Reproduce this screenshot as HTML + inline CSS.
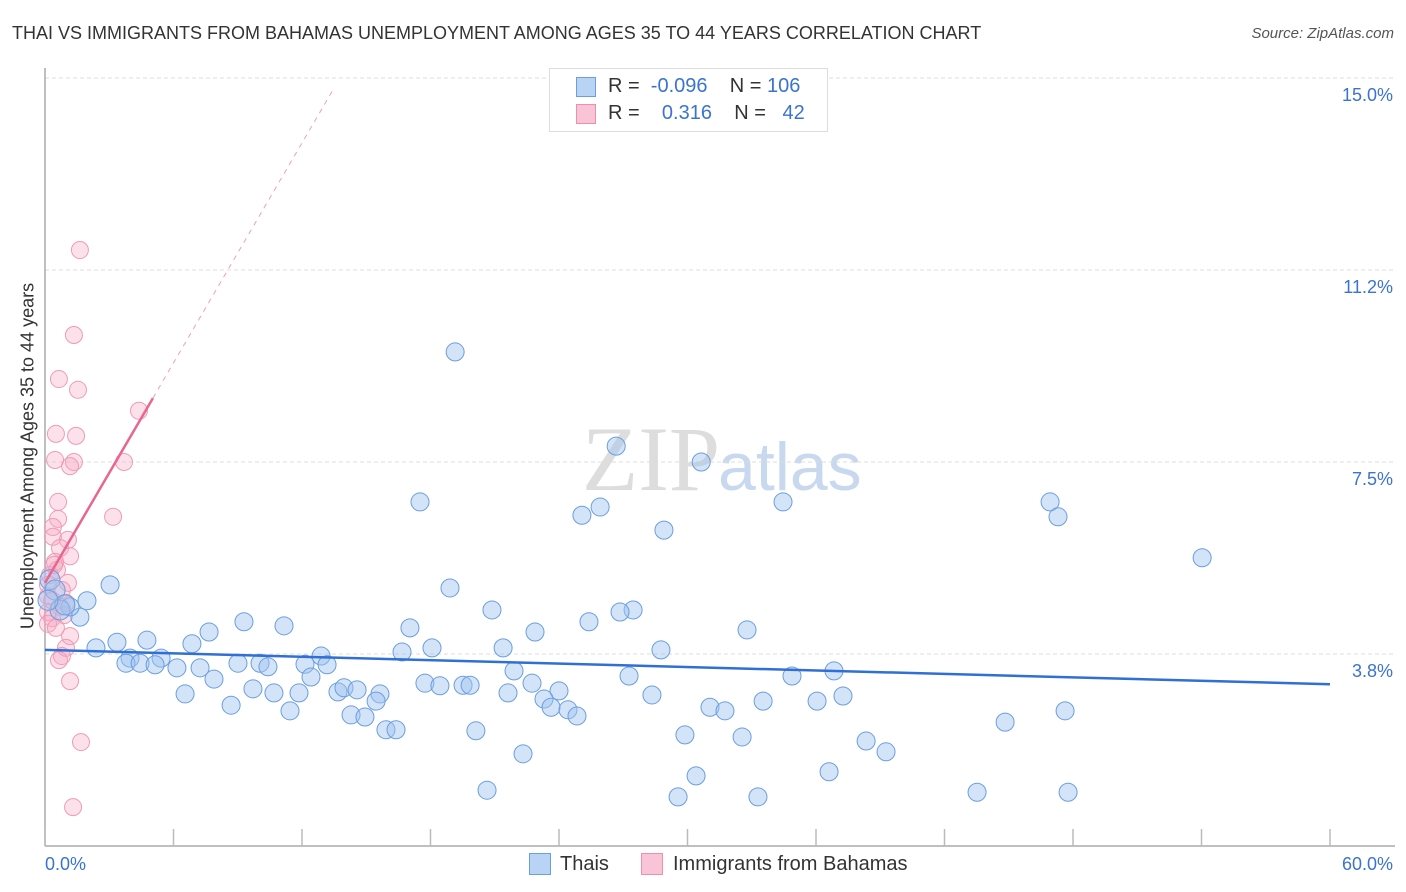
<!DOCTYPE html>
<html><head><meta charset="utf-8"><style>
body{margin:0;background:#fff;font-family:"Liberation Sans",sans-serif}
#c{position:relative;width:1406px;height:892px;overflow:hidden}
.t{position:absolute;white-space:nowrap}
</style></head><body>
<div id="c">
<div class="t" style="left:12px;top:23px;font-size:18px;color:#333">THAI VS IMMIGRANTS FROM BAHAMAS UNEMPLOYMENT AMONG AGES 35 TO 44 YEARS CORRELATION CHART</div>
<div class="t" style="right:12px;top:25px;font-size:15px;color:#555;font-style:italic">Source: ZipAtlas.com</div>
<div class="t" style="left:28px;top:456px;font-size:18px;color:#333;transform:translate(-50%,-50%) rotate(-90deg)">Unemployment Among Ages 35 to 44 years</div>
<svg id="s" width="1406" height="892" style="position:absolute;left:0;top:0">
<text x="720" y="490" text-anchor="end" font-family="Liberation Serif" font-size="92" fill="#ddd">ZIP</text>
<text x="718" y="490" font-family="Liberation Sans" font-size="68" fill="#c8d8ee">atlas</text>
</svg>
<div style="position:absolute;left:549px;top:68px;width:277px;height:62px;border:1px solid #ddd;background:#fff;font-size:20px;color:#333">
<div style="position:absolute;left:26px;top:8px;width:18px;height:18px;background:#b9d3f5;border:1px solid #6a9ee0"></div>
<div class="t" style="left:58px;top:6px">R = <span style="color:#3a73d1">&nbsp;-0.096</span>&nbsp;&nbsp;&nbsp; N = <span style="color:#3a73d1">106</span></div>
<div style="position:absolute;left:26px;top:35px;width:18px;height:18px;background:#f9c5d6;border:1px solid #ee8fb0"></div>
<div class="t" style="left:58px;top:33px">R = <span style="color:#3a73d1">&nbsp;&nbsp;&nbsp;0.316</span>&nbsp;&nbsp;&nbsp; N = <span style="color:#3a73d1">&nbsp;&nbsp;42</span></div>
</div>
<div style="position:absolute;left:529px;top:853px;width:20px;height:20px;background:#b9d3f5;border:1px solid #6a9ee0"></div>
<div class="t" style="left:560px;top:853px;font-size:20px;color:#333">Thais</div>
<div style="position:absolute;left:641px;top:853px;width:20px;height:20px;background:#f9c5d6;border:1px solid #ee8fb0"></div>
<div class="t" style="left:673px;top:853px;font-size:20px;color:#333">Immigrants from Bahamas</div>
</div>
<script>
const xTicks=[0,6,12,18,24,30,36,42,48,54,60];
const yTickVals=[15,11.25,7.5,3.75];
const yTickLabels=["15.0%","11.2%","7.5%","3.8%"];
const xLabels=["0.0%","60.0%"];
const thaisX=[19.15,26.67,30.64,17.51,25.07,25.92,28.90,34.46,46.93,47.30,54.03,3.04,18.91,1.96,1.63,1.17,20.87,27.46,26.85,25.40,9.29,11.16,7.66,17.04,32.78,22.88,3.36,4.76,2.38,6.86,18.07,21.39,16.67,28.76,3.97,5.42,12.89,3.78,4.44,6.16,7.24,9.01,10.04,10.41,12.14,13.17,5.14,21.90,36.84,34.88,27.27,7.89,12.42,6.54,9.71,10.69,11.86,13.68,13.96,14.57,15.64,17.74,18.44,19.52,19.85,21.62,22.74,24.00,28.34,37.26,36.05,33.53,8.69,11.44,15.46,23.30,23.63,24.42,24.84,31.05,31.75,14.29,14.94,15.92,16.39,20.12,29.88,32.55,38.34,39.27,44.83,47.63,22.32,30.40,36.61,20.64,29.56,33.29,43.52,47.77,0.23,0.47,0.70,0.93,0.14];
const thaisY=[9.65,7.81,7.50,6.72,6.46,6.62,6.17,6.72,6.72,6.43,5.63,5.10,5.04,4.79,4.47,4.67,4.61,4.61,4.57,4.38,4.38,4.30,4.18,4.26,4.22,4.18,3.98,4.02,3.87,3.95,3.87,3.87,3.79,3.83,3.67,3.67,3.71,3.57,3.57,3.48,3.48,3.57,3.57,3.50,3.55,3.54,3.54,3.42,3.42,3.32,3.32,3.26,3.30,2.97,3.07,2.99,2.99,3.01,3.09,3.05,2.97,3.18,3.13,3.14,3.14,2.99,3.18,3.03,2.95,2.93,2.83,2.83,2.75,2.64,2.83,2.87,2.71,2.66,2.54,2.71,2.64,2.56,2.52,2.27,2.27,2.25,2.17,2.13,2.05,1.84,2.42,2.64,1.80,1.37,1.45,1.09,0.96,0.96,1.05,1.05,5.20,5.00,4.61,4.71,4.80];
const bahX=[1.63,1.35,0.65,1.54,4.39,0.51,1.45,0.47,1.35,1.17,3.69,3.18,0.61,0.61,0.37,0.37,1.07,0.70,1.17,0.47,0.56,0.23,1.07,0.79,0.14,0.98,0.70,0.14,0.33,0.14,1.17,0.98,0.79,0.65,1.17,1.68,1.31,0.42,0.14,0.89,0.33,0.51];
const bahY=[11.64,9.98,9.12,8.91,8.50,8.05,8.01,7.54,7.50,7.42,7.50,6.43,6.72,6.39,6.23,6.04,5.98,5.82,5.66,5.55,5.39,5.29,5.14,5.00,4.88,4.75,4.67,4.57,4.45,4.34,4.10,3.87,3.71,3.63,3.22,2.03,0.76,5.49,5.10,4.51,4.80,4.26];
const thaisTrend=[3.83,3.16];
const bahTrend=[5.14,0.716];
const NS="http://www.w3.org/2000/svg";
const svg=document.getElementById('s');
const xs=v=>45+v*1285/60, ys=v=>846-v*51.2;
function mk(tag,a){const e=document.createElementNS(NS,tag);for(const k in a)e.setAttribute(k,a[k]);svg.appendChild(e);return e;}
yTickVals.forEach((v,i)=>{
 const g=mk('line',{x1:45,x2:1395,y1:ys(v),y2:ys(v),stroke:'#ddd','stroke-dasharray':'4,3'});
 
 
 const t=mk('text',{x:1393,y:ys(v)+23,'text-anchor':'end','font-size':18,fill:'#3a73d1','font-family':'Liberation Sans'});
 t.textContent=yTickLabels[i];
 
 
});
const ax=mk('line',{x1:45,x2:1395,y1:846,y2:846,stroke:'#aaa','stroke-width':1.5});


const ay=mk('line',{x1:45,x2:45,y1:68,y2:846,stroke:'#aaa','stroke-width':1.5});


xTicks.forEach(v=>{
 const l=mk('line',{x1:xs(v),x2:xs(v),y1:829,y2:846,stroke:'#bbb','stroke-width':1.5});
 
 
});
[[0,'start',45],[1,'end',1393]].forEach(([i,a,x])=>{
 const t=mk('text',{x:x,y:870,'text-anchor':a,'font-size':18,fill:'#3a73d1','font-family':'Liberation Sans'});
 t.textContent=xLabels[i];
 
 
});
bahX.forEach((x,i)=>{
 const c=mk('circle',{cx:xs(x),cy:ys(bahY[i]),r:8.5,fill:'rgba(245,170,195,0.35)',stroke:'#f09ab8','stroke-width':1});
 
 
});
thaisX.forEach((x,i)=>{
 const c=mk('circle',{cx:xs(x),cy:ys(thaisY[i]),r:i>=100?10:9,fill:'rgba(160,195,240,0.45)',stroke:'#6a9ee0','stroke-width':1});
 
 
});
const tl=mk('line',{x1:xs(0),y1:ys(thaisTrend[0]),x2:xs(60),y2:ys(thaisTrend[1]),stroke:'#2f6fd6','stroke-width':2.5});


const bx=5.04,bx2=13.45;
const bl=mk('line',{x1:xs(0),y1:ys(bahTrend[0]),x2:xs(bx),y2:ys(bahTrend[0]+bahTrend[1]*bx),stroke:'#e8668f','stroke-width':2.5});


const bd=mk('line',{x1:xs(bx),y1:ys(bahTrend[0]+bahTrend[1]*bx),x2:xs(bx2),y2:ys(bahTrend[0]+bahTrend[1]*bx2),stroke:'#f0a0b8','stroke-width':1,'stroke-dasharray':'5,5'});


</script>
</body></html>
